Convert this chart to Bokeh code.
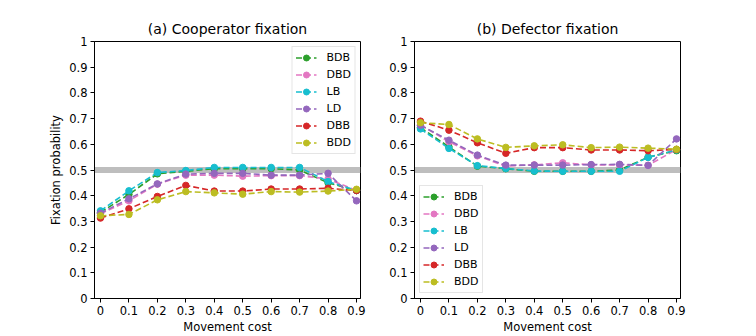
from bokeh.plotting import figure
from bokeh.layouts import row
from bokeh.models import Span, FixedTicker
from bokeh.embed import file_html
from bokeh.resources import INLINE

# ---------------- data ----------------
movement_cost = [0, 0.1, 0.2, 0.3, 0.4, 0.5, 0.6, 0.7, 0.8, 0.9]
x_tick_labels = ["0", "0.1", "0.2", "0.3", "0.4", "0.5", "0.6", "0.7", "0.8", "0.9"]
y_ticks = [0, 0.1, 0.2, 0.3, 0.4, 0.5, 0.6, 0.7, 0.8, 0.9, 1]
y_tick_labels = ["0", "0.1", "0.2", "0.3", "0.4", "0.5", "0.6", "0.7", "0.8", "0.9", "1"]

series_names = ["BDB", "DBD", "LB", "LD", "DBB", "BDD"]
series_colors = ["#2ca02c", "#e377c2", "#17becf", "#9467bd", "#d62728", "#bcbd22"]

# (a) Cooperator fixation
coop_BDB = [0.335, 0.405, 0.485, 0.495, 0.505, 0.505, 0.505, 0.500, 0.450, 0.420]
coop_DBD = [0.330, 0.380, 0.445, 0.480, 0.480, 0.476, 0.478, 0.478, 0.465, 0.420]
coop_LB  = [0.341, 0.419, 0.490, 0.498, 0.510, 0.510, 0.510, 0.510, 0.455, 0.420]
coop_LD  = [0.332, 0.388, 0.446, 0.484, 0.487, 0.487, 0.480, 0.480, 0.487, 0.380]
coop_DBB = [0.313, 0.349, 0.397, 0.440, 0.418, 0.418, 0.426, 0.426, 0.429, 0.420]
coop_BDD = [0.322, 0.327, 0.384, 0.416, 0.411, 0.406, 0.416, 0.414, 0.418, 0.425]

# (b) Defector fixation
def_BDB = [0.665, 0.590, 0.515, 0.505, 0.495, 0.495, 0.495, 0.500, 0.550, 0.575]
def_DBD = [0.675, 0.610, 0.555, 0.515, 0.520, 0.528, 0.520, 0.520, 0.518, 0.580]
def_LB  = [0.660, 0.584, 0.517, 0.506, 0.496, 0.495, 0.495, 0.495, 0.549, 0.578]
def_LD  = [0.674, 0.616, 0.558, 0.519, 0.519, 0.519, 0.521, 0.522, 0.518, 0.621]
def_DBB = [0.690, 0.655, 0.606, 0.565, 0.587, 0.587, 0.578, 0.578, 0.575, 0.580]
def_BDD = [0.684, 0.677, 0.621, 0.588, 0.594, 0.598, 0.587, 0.589, 0.585, 0.581]

coop_series = [coop_BDB, coop_DBD, coop_LB, coop_LD, coop_DBB, coop_BDD]
def_series = [def_BDB, def_DBD, def_LB, def_LD, def_DBB, def_BDD]

FONT = "DejaVu Sans"
FRAME_W = 266
FRAME_H = 258
TOP = 41
BOTTOM = 37


def make_panel(title, series, border_left, width, ylabel, legend_loc):
    p = figure(width=width, height=TOP + FRAME_H + BOTTOM,
               x_range=(-0.021, 0.914), y_range=(0, 1),
               output_backend="svg", toolbar_location=None,
               min_border_left=border_left,
               min_border_right=width - border_left - FRAME_W,
               min_border_top=TOP, min_border_bottom=BOTTOM)
    p.title.text = title
    p.title.align = "center"
    p.title.text_font = FONT
    p.title.text_font_size = "14px"
    p.title.text_font_style = "normal"
    p.title.text_color = "black"

    p.xgrid.visible = False
    p.ygrid.visible = False
    p.outline_line_color = "black"
    p.outline_line_alpha = 1
    p.outline_line_width = 1

    band = Span(location=0.5, dimension="width", line_color="#bebebe",
                line_width=6, level="underlay")
    p.add_layout(band)

    for name, color, ys in zip(series_names, series_colors, series):
        p.line(movement_cost, ys, line_color=color, line_width=1.6,
               line_dash="6 3", legend_label=name)
        p.scatter(movement_cost, ys, size=6.5, fill_color=color,
                  line_color=color, legend_label=name)

    for ax in (p.xaxis[0], p.yaxis[0]):
        ax.major_tick_in = 0
        ax.major_tick_out = 4
        ax.minor_tick_in = 0
        ax.minor_tick_out = 0
        ax.axis_line_color = "black"
        ax.major_tick_line_color = "black"
        ax.major_label_text_font = FONT
        ax.major_label_text_font_size = "11.5px"
        ax.major_label_text_color = "black"
        ax.axis_label_text_font = FONT
        ax.axis_label_text_font_size = "11.5px"
        ax.axis_label_text_font_style = "normal"
        ax.axis_label_text_color = "black"
        ax.major_label_standoff = 3

    p.xaxis.ticker = FixedTicker(ticks=movement_cost)
    p.xaxis.major_label_overrides = {v: s for v, s in zip(movement_cost, x_tick_labels)}
    p.yaxis.ticker = FixedTicker(ticks=y_ticks)
    p.yaxis.major_label_overrides = {v: s for v, s in zip(y_ticks, y_tick_labels)}
    p.xaxis.axis_label = "Movement cost"
    p.xaxis.axis_label_standoff = 2
    if ylabel:
        p.yaxis.axis_label = ylabel
        p.yaxis.axis_label_standoff = 3

    lg = p.legend[0]
    lg.location = legend_loc
    lg.margin = 5
    lg.padding = 3
    lg.spacing = 2
    lg.glyph_width = 21
    lg.glyph_height = 15
    lg.label_height = 15
    lg.label_standoff = 10
    lg.label_text_font = FONT
    lg.label_text_font_size = "11px"
    lg.label_text_color = "black"
    lg.border_line_color = "#cccccc"
    lg.border_line_width = 1
    lg.background_fill_alpha = 0.8
    return p


p1 = make_panel("(a) Cooperator fixation", coop_series, 94, 380,
                "Fixation probability", "top_right")
p2 = make_panel("(b) Defector fixation", def_series, 34, 320,
                None, "bottom_left")

layout = row(p1, p2)
open("out.html", "w").write(file_html(layout, INLINE))
